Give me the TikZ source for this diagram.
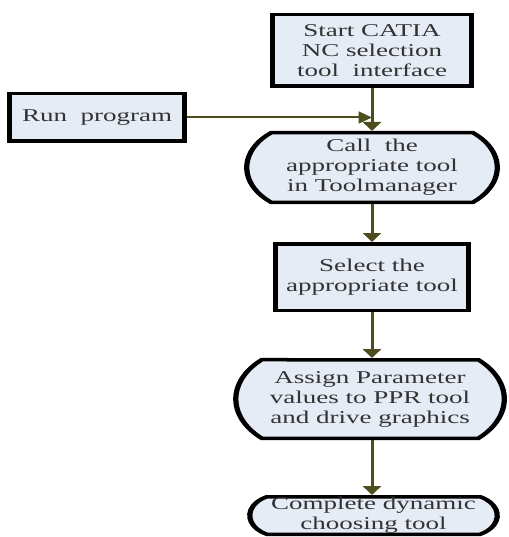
\documentclass[tikz,border=0pt]{standalone}
\usepackage{fontspec}
\setmainfont{Liberation Serif}
\usepackage{xcolor}
\usepackage{tikz}
\usetikzlibrary{shapes.misc,arrows.meta}
\definecolor{boxfill}{RGB}{229,236,246}
\definecolor{flowline}{RGB}{77,77,30}

\begin{document}
\begin{tikzpicture}[x=1pt,y=-1pt,
        box/.style = {draw, line width=3.5pt, fill=boxfill, rectangle, align=center,
                      inner sep=0pt, text=black!80, font=\fontsize{18}{20}\selectfont},
        oval/.style = {box, rounded rectangle},
        flow/.style = {draw=flowline, line width=2pt, -{Triangle[length=9pt,width=12pt]}}
        ]
    \useasboundingbox (0,0) rectangle (508,537);

    % whole chart is stretched sideways
    \begin{scope}[transform canvas={xscale=1.5}]
    \node[box, minimum width=133pt, minimum height=71.5pt] (start) at (248,50.5)
        {Start CATIA\\NC selection\\tool~ interface};
    \node[box, minimum width=116.5pt, minimum height=47.5pt] (run) at (64.7,117.5)
        {Run~ program};
    \node[oval, rounded rectangle arc length=100, minimum width=167pt, minimum height=69.5pt] (call) at (248,167.5)
        {Call~ the\\appropriate tool\\in Toolmanager};
    \node[box, minimum width=129pt, minimum height=66.5pt] (select) at (248,277)
        {Select the\\appropriate tool};
    \node[oval, rounded rectangle arc length=95, minimum width=179pt, minimum height=78.5pt] (assign) at (246.7,399)
        {Assign Parameter\\values to PPR tool\\and drive graphics};
    \node[oval, rounded rectangle arc length=125, minimum width=165pt, minimum height=37.5pt] (complete) at (249,515.5)
        {Complete dynamic\\choosing tool};

    \coordinate (join) at (start.south |- run.east);

    \draw[flow] (start.south) -- (call.north);
    \draw[flow] (run.east) -- (join);
    \draw[flow] (call.south) -- (select.north);
    \draw[flow] (select.south) -- (select.south |- assign.north);
    \draw[flow] (assign.south -| select.south) -- (select.south |- complete.north);
    \end{scope}
\end{tikzpicture}
\end{document}
